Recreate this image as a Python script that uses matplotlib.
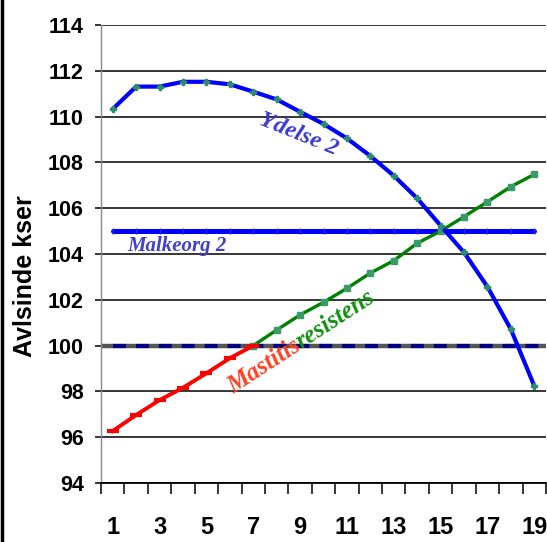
import numpy as np
import matplotlib
matplotlib.use("Agg")
import matplotlib.pyplot as plt

# values
generations = list(range(1, 20))
ydelse = [110.33, 111.31, 111.31, 111.52, 111.52, 111.41, 111.09, 110.75, 110.21,
          109.68, 109.05, 108.28, 107.42, 106.43, 105.24, 104.07, 102.57, 100.71, 98.24]
mastitis_red_x = list(range(1, 8))
mastitis_red = [96.27, 96.97, 97.62, 98.16, 98.79, 99.45, 100.0]
mastitis_green_x = list(range(7, 20))
mastitis_green = [100.0, 100.68, 101.34, 101.89, 102.50, 103.17, 103.71, 104.47,
                  105.0, 105.63, 106.28, 106.94, 107.48]
malkeorg = [105.0] * 19
baseline = 100.0
yticks = list(range(94, 115, 2))
xlabels = list(range(1, 20, 2))

sans = "Liberation Sans"
serif = "Liberation Serif"

W, H = 547, 542
fig = plt.figure(figsize=(W / 100, H / 100), dpi=100)
ax = fig.add_axes([101 / W, 1 - 483 / H, (546 - 101) / W, (483 - 25) / H])

ax.set_xlim(0.5, 19.5)
ax.set_ylim(94, 114)

# gridlines
for v in yticks:
    if v == 100:
        continue
    ax.axhline(v, color="black", lw=1.1, zorder=1)
ax.axhline(baseline, color="#555555", lw=3.2, zorder=1)

# series
ax.plot(generations, malkeorg, color="#0000ff", lw=3.6, marker="|", ms=5,
        mec="#2a2ad0", mew=1, zorder=3, solid_capstyle="round")
ax.plot([1, 19.5], [baseline, baseline], color="#000080", lw=3, dashes=(3.1, 2.4), zorder=2)
ax.plot(mastitis_green_x, mastitis_green, color="#008000", lw=2.4, marker="s", ms=4,
        mfc="#3a9a6a", mec="#3a9a6a", zorder=4)
ax.plot(mastitis_red_x, mastitis_red, color="#ff0000", lw=2.8, marker="_", ms=8,
        mec="#ff0000", mew=3, zorder=4)
ax.plot(generations, ydelse, color="#0000ff", lw=3, marker="P", ms=4,
        mfc="#2e8b6e", mec="#2e8b6e", zorder=5)

# axes styling
for s in ["top", "right"]:
    ax.spines[s].set_visible(False)
ax.spines["left"].set_color("#888888")
ax.spines["left"].set_linewidth(1)
ax.spines["bottom"].set_color("black")
ax.spines["bottom"].set_linewidth(1.3)

ax.set_yticks(yticks)
ax.set_yticklabels([str(v) for v in yticks], fontfamily=sans, fontweight="bold", fontsize=15.5)
ax.tick_params(axis="y", direction="out", length=4.3, width=1.1, pad=8, color="black")

ax.set_xticks(np.arange(0.5, 20, 1))
ax.set_xticklabels([])
ax.tick_params(axis="x", which="major", direction="out", length=8, width=1.1, color="black")
ax.set_xticks(xlabels, minor=True)
ax.set_xticklabels([str(v) for v in xlabels], minor=True, fontfamily=sans,
                   fontweight="bold", fontsize=17)
ax.tick_params(axis="x", which="minor", length=0, pad=24)

fig.text(25 / W, 1 - 276 / H, "Avlsinde kser", rotation=90, ha="center", va="center",
         fontfamily=sans, fontweight="bold", fontsize=18)

# series labels
fig.text(299 / W, 1 - 134 / H, "Ydelse 2", rotation=-22, ha="center", va="center",
         fontfamily=serif, fontweight="bold", style="italic", fontsize=17.5, color="#3a3acc")
fig.text(177 / W, 1 - 246 / H, "Malkeorg 2", ha="center", va="center",
         fontfamily=serif, fontweight="bold", style="italic", fontsize=15, color="#4040cc")

ang = 33
x0, y0 = 233, 394
lab_kw = dict(fontfamily=serif, fontweight="bold", style="italic", fontsize=18)
fig.text(x0 / W, 1 - y0 / H, "Mastitis", rotation=ang, rotation_mode="anchor",
         ha="left", va="baseline", color="#ff4020", **lab_kw)
tmp = fig.text(0, 0, "Mastitis", **lab_kw)
fig.canvas.draw()
w = tmp.get_window_extent().width
tmp.remove()
x1 = x0 + w * np.cos(np.radians(ang))
y1 = y0 - w * np.sin(np.radians(ang))
fig.text(x1 / W, 1 - y1 / H, "resistens", rotation=ang, rotation_mode="anchor",
         ha="left", va="baseline", color="#109010", **lab_kw)

# frame edge at the left
fig.add_artist(plt.Line2D([1.5 / W, 1.5 / W], [0, 1], color="black", lw=2.5,
                          transform=fig.transFigure))

fig.savefig("out.png", dpi=100)
